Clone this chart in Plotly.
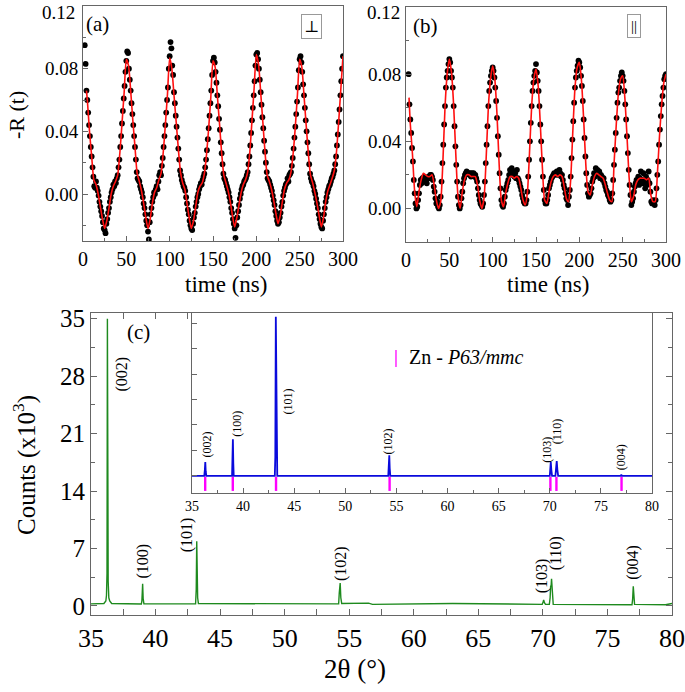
import numpy as np
import plotly.graph_objects as go

FONT = "Liberation Serif"

# ---------------- Panel (a): perpendicular, -R(t) (units of 1e-3) ----------------
t_dots_a = np.arange(2, 301)  # ns, measurement grid
r_dots_a = [95,83,66,60,52,44,37,30,24,17,11,5,4,8,4,2,-1,-5,-8,-11,-14,-18,-22,-23,
            -25,-19,-16,-12,-9,-5,-2,1,3,6,5,8,7,10,12,17,22,30,37,45,53,61,69,78,
            85,91,90,80,73,66,58,51,44,37,30,22,14,10,9,8,5,3,1,-2,-6,-9,-13,-17,-20,-24,
            -29,-18,-13,-9,-5,-2,1,0,3,5,3,8,12,14,12,18,23,30,37,44,52,60,68,80,
            88,97,93,82,76,65,58,50,43,36,29,22,15,12,9,7,5,4,2,-2,-6,-10,-13,-17,-20,-22,
            -23,-19,-15,-12,-8,-5,-2,0,3,5,7,6,9,11,13,17,22,28,35,42,50,58,66,76,
            85,87,84,78,71,63,56,48,41,33,26,19,13,10,9,7,5,3,1,-2,-5,-9,-12,-16,-19,-22,
            -28,-20,-15,-11,-7,-3,0,3,5,6,8,9,10,12,14,19,24,31,39,47,55,63,72,82,
            89,90,86,80,73,65,57,49,42,34,27,20,14,10,9,8,6,4,2,-1,-4,-7,-11,-14,-17,-19,
            -18,-15,-12,-8,-5,-1,2,4,6,7,10,8,12,13,14,18,23,29,36,43,51,59,68,79,
            86,88,84,78,70,63,55,47,40,33,26,19,13,10,8,7,5,2,0,-3,-6,-9,-13,-16,-19,-21,
            -22,-17,-13,-9,-5,-2,1,3,5,6,8,10,11,13,15,19,24,31,38,46,54,63,72,80,88]

t_fit_a = np.concatenate([[4], np.arange(5, 300.1, 2.5)])
r_fit_a = [66,60,40,24,9,6,0,-8,-16,-22,-17,-9,0,5,8,12,26,45,65,86,
           82,66,47,30,13,8,2,-6,-15,-22,-16,-6,1,4,9,13,26,44,64,87,
           80,63,46,29,14,7,3,-6,-15,-22,-17,-8,1,5,7,13,25,42,62,85,
           81,63,45,26,12,7,2,-5,-14,-21,-15,-7,1,6,9,14,27,47,68,89,
           83,65,46,27,12,8,3,-4,-12,-19,-14,-5,3,7,9,14,26,43,64,86,
           81,63,44,26,12,7,1,-6,-14,-21,-15,-5,2,6,10,15,27,46,67,88]

# ---------------- Panel (b): parallel ----------------
t_dots_b = np.arange(3, 301)
r_dots_b = [80,62,53,45,36,28,17,9,3,0,1,5,9,14,17,15,18,16,19,17,18,15,18,
            19,18,20,20,19,17,13,10,6,3,4,1,0,2,7,16,27,38,50,61,72,78,82,86,
            89,87,82,78,72,61,49,37,26,16,7,2,0,2,6,10,15,18,20,21,22,21,21,20,21,19,
            21,20,21,19,20,18,16,12,8,5,3,2,1,3,8,16,27,38,49,61,70,75,79,82,
            84,82,78,72,64,54,43,32,21,12,5,2,1,3,7,11,13,15,17,20,23,22,24,20,22,19,
            21,18,23,18,17,15,13,11,8,6,4,3,3,5,10,19,29,40,51,61,70,75,79,82,
            86,81,76,70,61,50,40,29,19,11,5,3,3,5,8,12,14,16,18,19,20,21,20,21,22,20,
            21,23,21,19,20,17,14,12,9,6,5,2,7,11,19,30,41,52,63,72,78,82,85,88,
            87,84,79,73,64,53,42,31,21,14,9,7,8,9,12,16,18,21,19,24,21,23,20,22,18,20,
            19,17,18,15,13,11,10,8,7,5,4,5,9,17,26,35,45,54,63,69,72,76,79,81,
            79,76,70,62,53,43,33,23,14,8,2,4,6,10,13,15,17,16,19,14,18,22,17,15,21,16,
            12,19,14,17,22,15,10,4,3,5,4,2,5,12,20,28,38,47,55,62,67,72,77,79,80]

t_fit_b = np.concatenate([[3.5], np.arange(5, 300.1, 2.5)])
r_fit_b = [66,50,32,10,1,10,17,21,20,19,19,20,14,5,0,4,27,60,80,89,
           81,61,32,7,0,10,17,20,20,19,19,19,14,5,0,6,30,60,77,85,
           77,56,26,5,1,9,15,19,19,18,19,18,12,5,2,9,33,61,77,83,
           73,50,23,5,3,10,16,19,20,19,20,19,13,6,4,17,46,72,84,87,
           76,53,26,10,8,14,19,21,20,19,18,14,9,5,4,26,49,68,77,79,
           66,43,18,4,7,14,17,18,18,18,17,18,8,4,4,20,43,62,75,80]

r_tickvals = [0, 0.04, 0.08]        # the top value 0.12 sits on the frame edge, written as text
r_top_label = "0.12"

# ---------------- Panel (c): XRD (counts x10^3) ----------------
two_theta = [35.0, 36.0, 36.15, 36.2, 36.24, 36.27, 36.3, 36.33, 36.38, 36.45, 36.6,
             38.9, 38.94, 38.97, 39.0, 39.04, 39.1,
             43.1, 43.15, 43.19, 43.22, 43.26, 43.32,
             50.0, 54.18, 54.23, 54.26, 54.3, 54.35, 54.42,
             56.5, 56.8, 63.0, 68.0,
             69.95, 70.02, 70.06, 70.12, 70.2,
             70.5, 70.56, 70.6, 70.64, 70.67, 70.73, 70.8,
             76.9, 76.95, 77.0, 77.05, 77.1, 79.5, 80.0]
counts = [0.25, 0.3, 0.6, 1.3, 4.0, 35.0, 19.5, 3.0, 1.0, 0.6, 0.3,
          0.25, 0.6, 1.6, 2.7, 0.9, 0.25,
          0.25, 2.0, 7.9, 4.0, 1.0, 0.3,
          0.22, 0.25, 1.6, 1.9, 2.8, 1.0, 0.3,
          0.35, 0.2, 0.3, 0.18,
          0.2, 0.5, 0.75, 0.4, 0.2,
          0.2, 1.0, 2.4, 2.5, 3.3, 1.0, 0.2,
          0.15, 0.8, 2.4, 0.9, 0.2, 0.15, 0.3]
main_labels = ["(002)", "(100)", "(101)", "(102)", "(103)", "(110)", "(004)"]
main_lab_x = [37.38, 39.0, 42.41, 54.42, 69.91, 71.07, 77.0]
main_lab_y = [28.3, 5.5, 8.7, 5.2, 3.7, 6.4, 5.3]

# inset: calculated pattern (arb. units) and reference reflections
inset_tt = [35.0, 36.2, 36.26, 36.3, 36.34, 36.4,
            38.92, 38.96, 39.0, 39.04, 39.08,
            43.1, 43.15, 43.2, 43.24, 43.28, 43.34,
            54.2, 54.26, 54.3, 54.34, 54.4,
            70.0, 70.05, 70.1, 70.15, 70.22, 70.55, 70.62, 70.68, 70.74, 70.82,
            76.95, 77.0, 77.05, 80.0]
inset_int = [0, 0, 4, 8.7, 3, 0,
             0, 10, 23, 8, 0,
             0, 12, 100, 41, 5, 0,
             0, 6, 13, 5, 0,
             0, 4, 8.7, 4, 0, 0, 5, 9.3, 4, 0,
             0, 0.8, 0, 0]
ref_pos = [36.29, 38.99, 43.22, 54.33, 70.06, 70.65, 77.02]
inset_lab_x = [36.44, 39.37, 44.39, 54.18, 69.71, 70.69, 77.05]
inset_lab_y = [19.5, 32.6, 46.8, 21.7, 16.3, 27.9, 11.6]

fig = go.Figure()

err_style = dict(type="constant", value=0.0015, color="#b8b8b8", thickness=0.8, width=0)

fig.add_trace(go.Scatter(x=t_dots_a, y=np.array(r_dots_a) / 1000, mode="markers",
                         marker=dict(color="black", size=5.8), error_y=err_style,
                         xaxis="x", yaxis="y", showlegend=False))
fig.add_trace(go.Scatter(x=t_fit_a, y=np.array(r_fit_a) / 1000, mode="lines",
                         line=dict(color="#ff1010", width=1.6, shape="spline", smoothing=0.6),
                         xaxis="x", yaxis="y", showlegend=False))
fig.add_trace(go.Scatter(x=t_dots_b, y=np.array(r_dots_b) / 1000, mode="markers",
                         marker=dict(color="black", size=5.8), error_y=err_style,
                         xaxis="x2", yaxis="y2", showlegend=False))
fig.add_trace(go.Scatter(x=t_fit_b, y=np.array(r_fit_b) / 1000, mode="lines",
                         line=dict(color="#ff1010", width=1.6, shape="spline", smoothing=0.6),
                         xaxis="x2", yaxis="y2", showlegend=False))
fig.add_trace(go.Scatter(x=two_theta, y=counts, mode="lines",
                         line=dict(color="#1e8a1e", width=1.4),
                         xaxis="x3", yaxis="y3", showlegend=False))
fig.add_trace(go.Scatter(x=inset_tt, y=inset_int, mode="lines",
                         line=dict(color="#0a0adc", width=1.8),
                         xaxis="x4", yaxis="y4", showlegend=False))
fig.add_trace(go.Scatter(x=ref_pos, y=[-5] * len(ref_pos), mode="markers",
                         marker=dict(symbol="line-ns", size=10, line=dict(color="#ff00ff", width=2.4)),
                         xaxis="x4", yaxis="y4", showlegend=False))

tick_common = dict(ticks="inside", showline=True, linecolor="#666666", linewidth=1,
                   tickcolor="#666666", showgrid=False, zeroline=False, automargin=False,
                   tickfont=dict(family=FONT, color="black"))

def ax(**kw):
    d = dict(tick_common)
    d.update(kw)
    return d

layout = dict(
    width=685, height=692, margin=dict(l=0, r=0, t=0, b=0, autoexpand=False),
    paper_bgcolor="white", plot_bgcolor="white",
    font=dict(family=FONT, color="black"),
    xaxis=ax(domain=[83/685, 343/685], range=[0, 300], tickvals=[0, 50, 100, 150, 200, 250, 300],
             ticklen=5, minor=dict(dtick=25, ticks="inside", ticklen=3, tickcolor="#666666"),
             mirror=True, tickfont=dict(family=FONT, size=20, color="black"), anchor="y"),
    yaxis=ax(domain=[1-241/692, 1-6/692], range=[-0.03, 0.12], tickvals=r_tickvals, tickformat=".2f",
             ticklen=5, minor=dict(dtick=0.02, ticks="inside", ticklen=3, tickcolor="#666666"),
             mirror=True, tickfont=dict(family=FONT, size=19, color="black"), anchor="x"),
    xaxis2=ax(domain=[406/685, 666/685], range=[0, 300], tickvals=[0, 50, 100, 150, 200, 250, 300],
              ticklen=5, minor=dict(dtick=25, ticks="inside", ticklen=3, tickcolor="#666666"),
              mirror=True, tickfont=dict(family=FONT, size=20, color="black"), anchor="y2"),
    yaxis2=ax(domain=[1-242/692, 1-7/692], range=[-0.02, 0.12], tickvals=r_tickvals, tickformat=".2f",
              ticklen=5, minor=dict(dtick=0.02, ticks="inside", ticklen=3, tickcolor="#666666"),
              mirror=True, tickfont=dict(family=FONT, size=19, color="black"), anchor="x2"),
    xaxis3=ax(domain=[91/685, 672/685], range=[35, 80], dtick=5, tick0=35, ticklen=6,
              minor=dict(dtick=2.5, ticks="inside", ticklen=6, tickcolor="#666666"),
              mirror="allticks", tickfont=dict(family=FONT, size=26, color="black"), anchor="y3"),
    yaxis3=ax(domain=[1-615/692, 1-313/692], range=[-1.1, 35.7], tickvals=[0, 7, 14, 21, 28, 35],
              ticklen=6, minor=dict(dtick=3.5, ticks="inside", ticklen=4, tickcolor="#666666"),
              mirror="allticks", tickfont=dict(family=FONT, size=25, color="black"), anchor="x3"),
    xaxis4=ax(domain=[192/685, 652/685], range=[35, 80], dtick=5, tick0=35, ticklen=5,
              minor=dict(dtick=2.5, ticks="inside", ticklen=3, tickcolor="#666666"),
              mirror=True, tickfont=dict(family=FONT, size=14, color="black"), anchor="y4"),
    yaxis4=ax(domain=[1-493/692, 1-313/692], range=[-10.7, 102.3], dtick=16, tick0=0, ticklen=5,
              showticklabels=False, mirror=True, anchor="x4"),
    showlegend=False,
)
fig.update_layout(**layout)

ann = []
def paper_text(text, X, Y, size, angle=0, **kw):
    d = dict(text=text, x=X/685, y=1-Y/692, xref="paper", yref="paper", showarrow=False,
             font=dict(family=FONT, size=size, color="black"), textangle=angle,
             xanchor="center", yanchor="middle")
    d.update(kw)
    ann.append(d)

paper_text(r_top_label, 77, 12, 19, xanchor="right")
paper_text(r_top_label, 402, 12, 19, xanchor="right")
paper_text("-R (t)", 16, 115, 22, angle=-90)
paper_text("time (ns)", 226, 285, 23)
paper_text("time (ns)", 548, 285, 23)
paper_text("(a)", 98, 24, 21)
paper_text("(b)", 425, 26, 21)
paper_text("(c)", 138, 332, 21)
paper_text("Counts (x10<sup>3</sup>)", 25, 465, 25, angle=-90)
paper_text("2θ (°)", 355, 669, 27)
paper_text("⊥", 311.5, 26.5, 17, bordercolor="#999999", borderwidth=1, borderpad=2,
           font=dict(family="DejaVu Serif", size=16, color="black"))
paper_text("||", 634, 26.5, 15, bordercolor="#999999", borderwidth=1, borderpad=3)
paper_text("<b>|</b>", 396, 357, 18, font=dict(family=FONT, size=18, color="#ff00ff"))
paper_text("Zn - <i>P63/mmc</i>", 407, 357, 20, xanchor="left")

for lab, x, y in zip(main_labels, main_lab_x, main_lab_y):
    ann.append(dict(text=lab, x=x, y=y, xref="x3", yref="y3", showarrow=False, textangle=-90,
                    font=dict(family=FONT, size=16, color="black")))
for lab, x, y in zip(main_labels, inset_lab_x, inset_lab_y):
    ann.append(dict(text=lab, x=x, y=y, xref="x4", yref="y4", showarrow=False, textangle=-90,
                    font=dict(family=FONT, size=12, color="black")))

fig.update_layout(annotations=ann)

pin_js = (
    "document.documentElement.style.overflow='hidden';"
    "document.body.style.margin='0';document.body.style.padding='0';"
)
fig.write_html("out.html", config={"displayModeBar": False}, post_script=pin_js)
